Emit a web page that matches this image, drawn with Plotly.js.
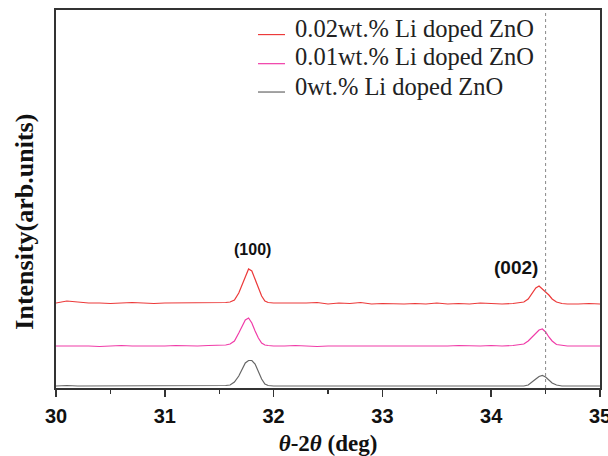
<!DOCTYPE html>
<html>
<head>
<meta charset="utf-8">
<script src="https://cdn.plot.ly/plotly-3.0.1.min.js"></script>
<style>html,body{margin:0;padding:0;background:#fff;}#chart{width:608px;height:456px;}</style>
</head>
<body>
<div id="chart"></div>
<script>
// 2-theta (deg)
const twoTheta = [
  30.0,30.1,30.2,30.3,30.4,30.5,30.6,30.7,30.8,30.9,31.0,31.1,31.2,31.3,31.4,31.5,
  31.56,31.6,31.64,31.68,31.71,31.74,31.77,31.8,31.83,31.86,31.89,31.92,31.95,32.0,
  32.1,32.2,32.3,32.4,32.5,32.6,32.7,32.8,32.9,33.0,33.1,33.2,33.3,33.4,33.5,33.6,33.7,33.8,33.9,34.0,34.1,34.2,
  34.26,34.3,34.34,34.38,34.41,34.44,34.47,34.5,34.53,34.56,34.6,34.65,34.7,
  34.8,34.9,35.0
];
// intensities (arb. units, offset stacked)
const li002 = [
  85,87,86,85,85,84.5,85,85.5,85,84.5,85,85,85.5,85,85,85.5,
  85.5,86,88,95,103,112,119,117,109,100,92,87,85.5,85,
  85,84.5,85,85.5,84,85,84.5,85.5,84,84.5,84,84,84.5,84,85,84,84.5,84,85,84.5,84,84.5,
  85,86,89,95,100,102,99,97,93,89,86,84.5,84,
  84,84.5,84
];
const li001 = [
  42,42,42.5,42,41.5,42,42.5,42,42,41.5,42,42.5,42,42,42.5,42.5,
  43,44,47,55,62,68,70,65,57,50,45,43,42.5,42,
  42,42.5,42,41.5,42,42,41.5,42,41.5,42,41.5,42,42,41.5,42,42,42.5,42,42,42.5,42,42.5,
  43,44,47,51,55,58,59,56,51,47,43.5,42.5,42,
  42,42,42
];
const li000 = [
  2,2.5,2,2,2.5,2,2.5,2,2,2.5,2,2,2.5,2,2,2.5,
  2.5,3,6,12,19,25,27.5,27.5,24,17,9,4,2.5,2,
  2,2.5,2,2,2.5,2,2,2.5,2,2,2.5,2,2,2.5,2,2,2.5,2,2,2.5,2,2,
  2,2,3,6,9,11.5,12.5,11,8,5,3,2,2,
  2,2,2
];
const seriesNames = ["0.02wt.% Li doped ZnO", "0.01wt.% Li doped ZnO", "0wt.% Li doped ZnO"];
const seriesColors = ["#ec3a3a", "#f03ca8", "#666666"];
const xTicks = [30, 31, 32, 33, 34, 35];
const peakLabels = ["(100)", "(002)"];
const peakPos = [31.81, 34.23];
const peakLabelY = [139, 121];
const refLine = 34.5;

const serif = "Liberation Serif";
const sans = "Liberation Sans";

const series = [li002, li001, li000];
const traces = series.map((y, i) => ({
  x: twoTheta, y: y, name: seriesNames[i], mode: "lines",
  line: {color: seriesColors[i], width: 1.2}, showlegend: false
}));

// hand-placed legend (paper coordinates)
const legX0 = 0.3713, legX1 = 0.421, legTextX = 0.4357;
const legTextY = [0.951, 0.876, 0.798];
const legLineY = [0.935, 0.858, 0.783];

const shapes = [{type: "line", xref: "x", yref: "paper", x0: refLine, x1: refLine, y0: 0, y1: 1,
                 line: {color: "#888", width: 1, dash: "dot"}}];
const annotations = [
  {x: peakPos[0], y: peakLabelY[0], xref: "x", yref: "y", text: "<b>" + peakLabels[0] + "</b>",
   showarrow: false, font: {family: sans, size: 16, color: "#111"}},
  {x: peakPos[1], y: peakLabelY[1], xref: "x", yref: "y", text: "<b>" + peakLabels[1] + "</b>",
   showarrow: false, font: {family: sans, size: 19, color: "#111"}},
  {x: -0.057, y: 0.44, xref: "paper", yref: "paper", xanchor: "center", yanchor: "middle",
   text: "<b>Intensity(arb.units)</b>",
   textangle: -90, showarrow: false, font: {family: serif, size: 26, color: "#111"}}
];
seriesNames.forEach((n, i) => {
  shapes.push({type: "line", xref: "paper", yref: "paper", x0: legX0, x1: legX1,
               y0: legLineY[i], y1: legLineY[i], line: {color: seriesColors[i], width: 1.2}});
  annotations.push({x: legTextX, y: legTextY[i], xref: "paper", yref: "paper",
                    xanchor: "left", yanchor: "middle", text: n, showarrow: false,
                    font: {family: serif, size: 24.5, color: "#222"}});
});

const layout = {
  width: 608, height: 456,
  margin: {l: 56, r: 8, t: 10, b: 68},
  paper_bgcolor: "#fff", plot_bgcolor: "#fff",
  font: {family: serif, color: "#111"},
  showlegend: false,
  xaxis: {
    range: [30, 35], tickvals: xTicks, ticktext: xTicks.map(String),
    ticks: "outside", ticklen: 7, tickwidth: 1.5, tickcolor: "#333",
    ticklabeloverflow: "allow", ticklabelstandoff: 2,
    minor: {dtick: 0.5, ticks: "outside", ticklen: 4, tickwidth: 1.2, tickcolor: "#333"},
    showline: true, linecolor: "#333", linewidth: 2, mirror: true,
    showgrid: false, zeroline: false,
    tickfont: {family: sans, size: 20, color: "#111", weight: "bold"},
    title: {text: "<b><i>θ</i>-2<i>θ</i> (deg)</b>", font: {family: serif, size: 23, color: "#111"}, standoff: 19}
  },
  yaxis: {
    range: [0, 378], showticklabels: false, ticks: "",
    showline: true, linecolor: "#333", linewidth: 2, mirror: true,
    showgrid: false, zeroline: false
  },
  shapes: shapes,
  annotations: annotations
};

Plotly.newPlot("chart", traces, layout, {displayModeBar: false, staticPlot: true});
</script>
</body>
</html>
